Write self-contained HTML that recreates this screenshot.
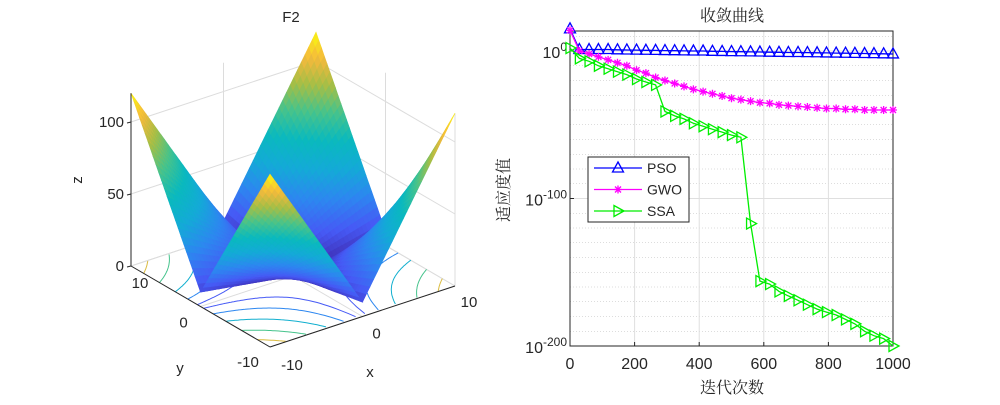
<!DOCTYPE html>
<html><head><meta charset="utf-8">
<style>
html,body{margin:0;padding:0;background:#fff;}
svg text{font-family:"Liberation Sans","Noto Sans CJK SC",sans-serif;fill:#262626;}
.cjk{font-family:"Liberation Serif","Noto Serif CJK SC",serif;}
</style></head>
<body>
<svg id="fig" width="1000" height="400" viewBox="0 0 1000 400" xmlns="http://www.w3.org/2000/svg">
  <g id="left"></g>
  <g id="right"></g>
</svg>
<script>
// ---------- convergence chart data ----------
const iters = [0,29,59,88,118,147,176,206,235,265,294,324,353,382,412,441,471,500,529,559,588,618,647,676,706,735,765,794,824,853,882,912,941,971,1000];
const psoLog = [15,1,1,1,1,0.8,0.7,0.6,0.5,0.4,0.3,0.2,0.1,0,0,-0.2,-0.3,-0.4,-0.5,-0.6,-0.7,-0.8,-0.9,-1,-1,-1.1,-1.2,-1.3,-1.4,-1.5,-1.6,-1.7,-1.8,-1.9,-2];
const gwoLog = [14,0,-2,-4,-6,-8,-10,-13,-15,-18,-20,-22,-24,-26,-27.5,-29,-30.5,-32,-33,-34,-35,-35.5,-36.5,-37,-37.5,-38,-38.5,-39,-39,-39.5,-39.5,-40,-40,-40,-40];
const ssaLog = [2,-5,-7,-10,-12,-14,-16,-19,-21,-23,-41,-44,-46,-49,-51,-53,-55,-57,-58.5,-117,-156,-158,-163,-166,-169,-172,-175,-177,-179,-182,-185,-190,-193,-195,-200];
const xTicks = [0,200,400,600,800,1000];
const yMajor = [0,-100,-200];
const yMajorLabels = ["0","-100","-200"];
const seriesNames = ["PSO","GWO","SSA"];

// ---------- surface data ----------
const zTicks = [0,50,100];
const xyTicks = [-10,0,10];
const contourLevels = [15,30,50,75,100];

const NS="http://www.w3.org/2000/svg";
function mk(tag, attrs, parent){const e=document.createElementNS(NS,tag);for(const k in attrs)e.setAttribute(k,attrs[k]);parent.appendChild(e);return e;}

// ===== Right chart =====
const R=document.getElementById('right');
const L0=570,R0=893,T0=31,B0=346;
const sx=i=>L0+i*(R0-L0)/1000;
const sy=v=>51-v*1.475;
for(let v=10;v>=-190;v-=10){ if(v%100===0)continue;
  const g=mk('line',{x1:L0,x2:R0,y1:sy(v),y2:sy(v),stroke:'#bbb','stroke-width':0.6,'stroke-dasharray':'1,2'},R);
  
  
}
xTicks.forEach(t=>{ if(t>0&&t<1000){const g=mk('line',{x1:sx(t),x2:sx(t),y1:T0,y2:B0,stroke:'#dfdfdf','stroke-width':1},R);
  
  }});
yMajor.forEach(v=>{ if(v!==-200){const g=mk('line',{x1:L0,x2:R0,y1:sy(v),y2:sy(v),stroke:'#dfdfdf','stroke-width':1},R);
  
  }});
const box=mk('rect',{x:L0,y:T0,width:R0-L0,height:B0-T0,fill:'none',stroke:'#262626','stroke-width':1},R);


xTicks.forEach(t=>{const tx=mk('text',{x:sx(t),y:B0+23,'text-anchor':'middle','font-size':16},R);tx.textContent=t;
  
  
  mk('line',{x1:sx(t),x2:sx(t),y1:B0,y2:B0-4,stroke:'#262626'},R);});
yMajor.forEach((v,k)=>{const tx=mk('text',{x:L0-3,y:sy(v)+7,'text-anchor':'end','font-size':16},R);
  
  
  const a=document.createElementNS(NS,'tspan');a.textContent='10';tx.appendChild(a);
  const b=document.createElementNS(NS,'tspan');b.setAttribute('dy','-7');b.setAttribute('font-size','12');b.textContent=yMajorLabels[k];tx.appendChild(b);
  mk('line',{x1:L0,x2:L0+4,y1:sy(v),y2:sy(v),stroke:'#262626'},R);});
const title=mk('text',{x:732,y:21,'text-anchor':'middle','font-size':16,class:'cjk'},R);title.textContent='收敛曲线';


const xl=mk('text',{x:732,y:393,'text-anchor':'middle','font-size':16,class:'cjk'},R);xl.textContent='迭代次数';


const yl=mk('text',{x:0,y:0,'text-anchor':'middle','font-size':16,class:'cjk',transform:'translate(509,190) rotate(-90)'},R);yl.textContent='适应度值';



function marker(type,x,y,c,parent){
  if(type==='tri'){return mk('path',{d:`M${x},${y-6}L${x+5.5},${y+4}L${x-5.5},${y+4}Z`,fill:'none',stroke:c,'stroke-width':1.3},parent);}
  if(type==='rtri'){return mk('path',{d:`M${x+6},${y}L${x-4},${y-5.5}L${x-4},${y+5.5}Z`,fill:'none',stroke:c,'stroke-width':1.3},parent);}
  return mk('path',{d:`M${x-4},${y}H${x+4}M${x},${y-4}V${y+4}M${x-3},${y-3}L${x+3},${y+3}M${x-3},${y+3}L${x+3},${y-3}`,stroke:c,'stroke-width':1.3},parent);
}
const series=[[psoLog,'#0000ff','tri'],[gwoLog,'#ff00ff','star'],[ssaLog,'#00ee00','rtri']];
series.forEach(([vals,c,m],k)=>{
  const g=mk('g',{},R);
  
  
  const d=vals.map((v,i)=>(i?'L':'M')+sx(iters[i]).toFixed(1)+','+sy(v).toFixed(1)).join('');
  const p=mk('path',{d:d,fill:'none',stroke:c,'stroke-width':1.3},g);
  
  
  vals.forEach((v,i)=>{const mm=marker(m,sx(iters[i]),sy(v),c,g);
    
    });
});
const lg=mk('g',{},R);


mk('rect',{x:588,y:157,width:101,height:65,fill:'#fff',stroke:'#262626','stroke-width':1},lg);
series.forEach(([vals,c,m],k)=>{const y=168+k*21.5;
  const e=mk('g',{},lg);
  
  
  mk('line',{x1:594,x2:642,y1:y,y2:y,stroke:c,'stroke-width':1.3},e);
  marker(m,618,y,c,e);
  const t=mk('text',{x:647,y:y+5,'font-size':14},e);t.textContent=seriesNames[k];});

// ===== Left 3D surface =====
const S=document.getElementById('left');
const F={x:270,y:347}, Rt={x:455,y:286}, Lt={x:131,y:266};
const KZ=1.44;
function P(x,y,z){const a=(x+10)/20,b=(y+10)/20;return [F.x+a*(Rt.x-F.x)+b*(Lt.x-F.x), F.y+a*(Rt.y-F.y)+b*(Lt.y-F.y)-z*KZ];}
const f=(x,y)=>Math.abs(x)+Math.abs(y)+Math.abs(x)*Math.abs(y);
const stops=[[62,38,168],[70,90,245],[45,135,240],[20,170,215],[10,185,190],[70,195,140],[165,190,70],[245,185,60],[249,251,14]];
function parula(t){t=Math.max(0,Math.min(1,t));const s=t*8,i=Math.min(7,Math.floor(s)),u=s-i;const a=stops[i],b=stops[i+1];
  return `rgb(${Math.round(a[0]+(b[0]-a[0])*u)},${Math.round(a[1]+(b[1]-a[1])*u)},${Math.round(a[2]+(b[2]-a[2])*u)})`;}
const pt=a=>a[0].toFixed(1)+','+a[1].toFixed(1);
const wg=mk('g',{stroke:'#dcdcdc','stroke-width':1,fill:'none'},S);


xyTicks.forEach(t=>{mk('line',{x1:P(t,10,0)[0],y1:P(t,10,0)[1],x2:P(t,10,120)[0],y2:P(t,10,120)[1]},wg);
  mk('line',{x1:P(10,t,0)[0],y1:P(10,t,0)[1],x2:P(10,t,120)[0],y2:P(10,t,120)[1]},wg);});
zTicks.forEach(z=>{mk('polyline',{points:pt(P(-10,10,z))+' '+pt(P(10,10,z))+' '+pt(P(10,-10,z))},wg);});
xyTicks.forEach(t=>{mk('polyline',{points:pt(P(-10,t,0))+' '+pt(P(10,t,0))},wg);mk('polyline',{points:pt(P(t,-10,0))+' '+pt(P(t,10,0))},wg);});
const cg=mk('g',{fill:'none','stroke-width':1},S);


contourLevels.forEach(c=>{
  [[1,1],[1,-1],[-1,1],[-1,-1]].forEach(([sxg,syg])=>{
    const pts=[];
    for(let k=0;k<=80;k++){const x=Math.min(10,c)*k/80;const y=(c-x)/(1+x);if(y>10||y<0)continue;pts.push(pt(P(sxg*x,syg*y,0)));}
    if(pts.length>1)mk('polyline',{points:pts.join(' '),stroke:parula(c/120)},cg);
  });
});
const sg=mk('g',{},S);


const N=50,quads=[];
for(let i=0;i<N;i++)for(let j=0;j<N;j++){
  const x0=-10+20*i/N,x1=-10+20*(i+1)/N,y0=-10+20*j/N,y1=-10+20*(j+1)/N;
  const zs=[f(x0,y0),f(x1,y0),f(x1,y1),f(x0,y1)];
  quads.push({d:(x0+x1+y0+y1)/2,pts:[P(x0,y0,zs[0]),P(x1,y0,zs[1]),P(x1,y1,zs[2]),P(x0,y1,zs[3])],z:(zs[0]+zs[1]+zs[2]+zs[3])/4});
}
quads.sort((a,b)=>b.d-a.d);
quads.forEach(q=>{const c=parula(q.z/120);mk('polygon',{points:q.pts.map(pt).join(' '),fill:c,stroke:c,'stroke-width':0.6},sg);});
const ag=mk('g',{stroke:'#262626','stroke-width':1},S);


mk('line',{x1:P(-10,10,0)[0],y1:P(-10,10,0)[1],x2:P(-10,10,120)[0],y2:P(-10,10,120)[1]},ag);
mk('line',{x1:P(-10,-10,0)[0],y1:P(-10,-10,0)[1],x2:P(10,-10,0)[0],y2:P(10,-10,0)[1]},ag);
mk('line',{x1:P(-10,-10,0)[0],y1:P(-10,-10,0)[1],x2:P(-10,10,0)[0],y2:P(-10,10,0)[1]},ag);
zTicks.forEach(z=>{const p=P(-10,10,z);const t=mk('text',{x:p[0]-7,y:p[1]+5,'text-anchor':'end','font-size':15,stroke:'none'},S);t.textContent=z;
  
  
  mk('line',{x1:p[0]-4,x2:p[0],y1:p[1]+1,y2:p[1]},ag);});
const xOff={'-10':[22,23],'0':[14,22],'10':[14,21]};
xyTicks.forEach(v=>{const p=P(v,-10,0);const o=xOff[v];const t=mk('text',{x:p[0]+o[0],y:p[1]+o[1],'text-anchor':'middle','font-size':15},S);t.textContent=v;
  
  });
const yOff={'-10':[-22,20],'0':[-17,21],'10':[9,22]};
xyTicks.forEach(v=>{const p=P(-10,v,0);const o=yOff[v];const t=mk('text',{x:p[0]+o[0],y:p[1]+o[1],'text-anchor':'middle','font-size':15},S);t.textContent=v;
  
  });
const tl=mk('text',{x:291,y:22,'text-anchor':'middle','font-size':15},S);tl.textContent='F2';


const lx=mk('text',{x:370,y:377,'text-anchor':'middle','font-size':15},S);lx.textContent='x';


const ly=mk('text',{x:180,y:373,'text-anchor':'middle','font-size':15},S);ly.textContent='y';


const lz=mk('text',{x:0,y:0,'text-anchor':'middle','font-size':15,transform:'translate(82,180) rotate(-90)'},S);lz.textContent='z';


</script>
</body></html>
